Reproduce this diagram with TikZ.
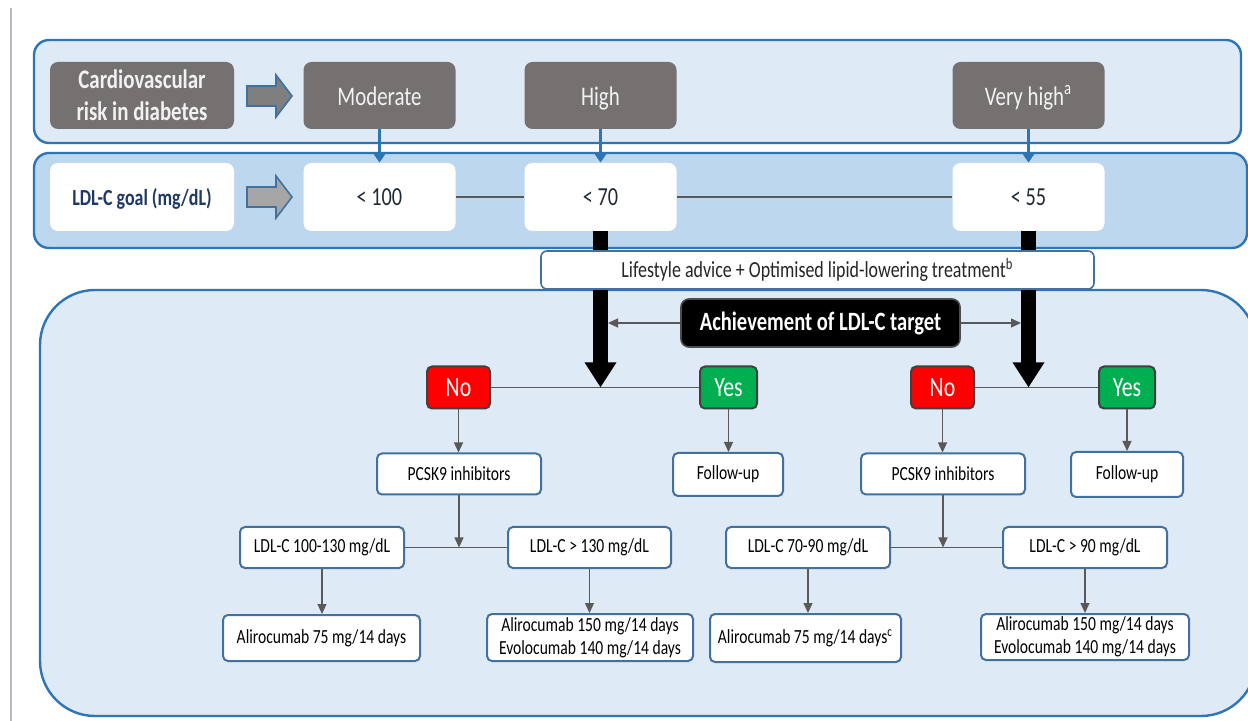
\documentclass[tikz,border=0pt]{standalone}
\usepackage{fontspec}
\setmainfont{Carlito}[FakeStretch=0.78]
\usetikzlibrary{arrows.meta,positioning}
\definecolor{panelA}{HTML}{DEEAF6}
\definecolor{panelB}{HTML}{BDD7EE}
\definecolor{panelline}{HTML}{2E75B6}
\definecolor{boxline}{HTML}{41719C}
\definecolor{riskgray}{HTML}{767171}
\definecolor{textnavy}{HTML}{1F3864}
\definecolor{textdark}{HTML}{222A35}
\definecolor{linkgray}{HTML}{595959}
\definecolor{nored}{HTML}{FF0000}
\definecolor{yesgreen}{HTML}{00B050}
\definecolor{edgegray}{HTML}{B4BAC6}
\definecolor{arrowdark}{HTML}{7F7F7F}
\definecolor{arrowlight}{HTML}{A6A6A6}

\begin{document}
\begin{tikzpicture}[x=0.5pt,y=-0.5pt,
	riskbox/.style={rounded corners=4pt, fill=riskgray, text=white!95!black,
		minimum width=76pt, minimum height=33.5pt, inner sep=0,
		font=\fontsize{13.4}{15}\selectfont},
	tier/.style={riskbox, text height=1.16em, text depth=0.2em},
	goalbox/.style={rounded corners=4pt, fill=white, text=textdark,
		minimum width=76pt, minimum height=34pt, inner sep=0,
		text height=1.1em, text depth=0.2em,
		font=\fontsize{13}{15}\selectfont},
	flowbox/.style={rounded corners=2.5pt, draw=boxline, line width=1pt, fill=white,
		minimum height=20.5pt, inner sep=0, align=center,
		font=\fontsize{10}{11.5}\selectfont},
	answer/.style={rounded corners=2.5pt, draw=black!75, line width=1pt, text=white,
		minimum height=21pt, inner sep=0, font=\fontsize{14}{16}\selectfont},
	link/.style={draw=linkgray, line width=0.6pt, -{Triangle[width=4.5pt,length=5pt]}},
	plain/.style={draw=linkgray, line width=0.6pt},
	bluelink/.style={draw=panelline, line width=1.6pt, -{Triangle[width=6.5pt,length=5pt]}},
	bigarrow/.style={draw=black, line width=7.5pt, -{Triangle[width=15pt,length=12.5pt]}}]
	
	\clip (0,0) rectangle (1248,721);
	\fill[white] (0,0) rectangle (1248,721);
	\draw[edgegray, line width=0.8pt] (11,8) -- (11,721);
	
	% panels
	\draw[panelline, line width=1.2pt, fill=panelA, rounded corners=7.5pt] (34,40) rectangle (1241,143);
	\draw[panelline, line width=1.2pt, fill=panelB, rounded corners=7.5pt] (34,153) rectangle (1247,248);
	\draw[panelline, line width=1.2pt, fill=panelA, rounded corners=27.5pt] (40,290) rectangle (1256,716);
	
	\foreach \ya/\fc in {96/arrowdark,197/arrowlight}
	\draw[boxline, line width=0.8pt, fill=\fc] (247,\ya-10) -- (276,\ya-10) -- (276,\ya-21)
		-- (292,\ya) -- (276,\ya+21) -- (276,\ya+10) -- (247,\ya+10) -- cycle;
	
	% risk and goal rows
	\node[riskbox, minimum width=92pt, align=center,
		font=\bfseries\fontsize{13.4}{16}\selectfont] (risk) at (142,95.5) {Cardiovascular\\risk in diabetes};
	\node[tier] (moderate) at (379.5,95.5) {Moderate};
	\node[tier] (high) at (600.5,95.5) {High};
	\node[tier] (veryhigh) at (1028.5,95.5) {Very high\textsuperscript{a}};
	
	\node[goalbox, minimum width=92pt, text=textnavy,
		font=\bfseries\fontsize{11.5}{13}\selectfont] (goal) at (142,197) {LDL-C goal (mg/dL)};
	\node[goalbox] (lt100) at (379.5,197) {< 100};
	\node[goalbox] (lt70) at (600.5,197) {< 70};
	\node[goalbox] (lt55) at (1028.5,197) {< 55};
	
	\draw[plain] (lt100.east) -- (lt70.west);
	\draw[plain] (lt70.east) -- (lt55.west);
	\draw[bluelink] (moderate.south) -- (lt100.north);
	\draw[bluelink] (high.south) -- (lt70.north);
	\draw[bluelink] (veryhigh.south) -- (lt55.north);
	
	% decision part
	\node[answer, fill=nored, minimum width=31.5pt] (noA) at (458.5,387.5) {No};
	\node[answer, fill=yesgreen, minimum width=28.5pt] (yesA) at (728.5,387.5) {Yes};
	\node[answer, fill=nored, minimum width=31.5pt] (noB) at (942.5,387.5) {No};
	\node[answer, fill=yesgreen, minimum width=28pt] (yesB) at (1127,387.5) {Yes};
	
	\node[flowbox, minimum width=82pt] (pcskA) at (459,474) {PCSK9 inhibitors};
	\node[flowbox, minimum width=55pt, minimum height=21.5pt] (followA) at (728,474.5) {Follow-up};
	\node[flowbox, minimum width=82pt] (pcskB) at (943,474) {PCSK9 inhibitors};
	\node[flowbox, minimum width=56pt, minimum height=22.5pt] (followB) at (1127,474.5) {Follow-up};
	
	\node[flowbox, minimum width=82pt] (ldlA1) at (322,547.5) {LDL-C 100-130 mg/dL};
	\node[flowbox, minimum width=81.5pt] (ldlA2) at (589.5,547.5) {LDL-C > 130 mg/dL};
	\node[flowbox, minimum width=82pt] (ldlB1) at (808,547.5) {LDL-C 70-90 mg/dL};
	\node[flowbox, minimum width=82pt] (ldlB2) at (1085,547.5) {LDL-C > 90 mg/dL};
	
	\node[flowbox, minimum width=98.5pt, minimum height=23pt] (doseA1) at (321.5,638) {Alirocumab 75 mg/14 days};
	\node[flowbox, minimum width=103pt, minimum height=23.5pt] (doseA2) at (590,637.5) {Alirocumab 150 mg/14 days\\Evolocumab 140 mg/14 days};
	\node[flowbox, minimum width=95.5pt, minimum height=24pt] (doseB1) at (805.5,638) {Alirocumab 75 mg/14 days\textsuperscript{c}};
	\node[flowbox, minimum width=104pt, minimum height=23pt] (doseB2) at (1085,637) {Alirocumab 150 mg/14 days\\Evolocumab 140 mg/14 days};
	
	\foreach \s in {A,B}{
		\draw[plain] (no\s.east) -- (yes\s.west);
		\draw[link] (no\s.south) -- (no\s.south |- pcsk\s.north);
		\draw[link] (yes\s.south) -- (yes\s.south |- follow\s.north);
		\draw[link] (pcsk\s.south) -- (pcsk\s.south |- ldl\s1.east);
		\draw[plain] (ldl\s1.east) -- (ldl\s2.west);
		\draw[link] (ldl\s1.south) -- (ldl\s1.south |- dose\s1.north);
		\draw[link] (ldl\s2.south) -- (ldl\s2.south |- dose\s2.north);
	}
	
	\draw[bigarrow] (lt70.south) -- (lt70.south |- noA.east);
	\draw[bigarrow] (lt55.south) -- (lt55.south |- noB.east);
	
	\node[rounded corners=3pt, draw=boxline, line width=0.8pt, fill=white, text=black!85,
		minimum width=276.5pt, minimum height=19pt, inner sep=0,
		font=\fontsize{11.5}{13}\selectfont] (lifestyle) at (817.5,270)
		{Lifestyle advice + Optimised lipid-lowering treatment\textsuperscript{b}};
	
	\node[fill=black, draw=black!70, line width=0.8pt, rounded corners=4pt, text=white,
		minimum width=139.5pt, minimum height=24pt, inner sep=0,
		font=\bfseries\fontsize{13.2}{15}\selectfont] (achieve) at (820.5,323) {Achievement of LDL-C target};
	\coordinate (shaftL) at (608,323);
	\coordinate (shaftR) at (1021,323);
	\draw[link] (achieve.west) -- (shaftL);
	\draw[link] (achieve.east) -- (shaftR);
\end{tikzpicture}
\end{document}
